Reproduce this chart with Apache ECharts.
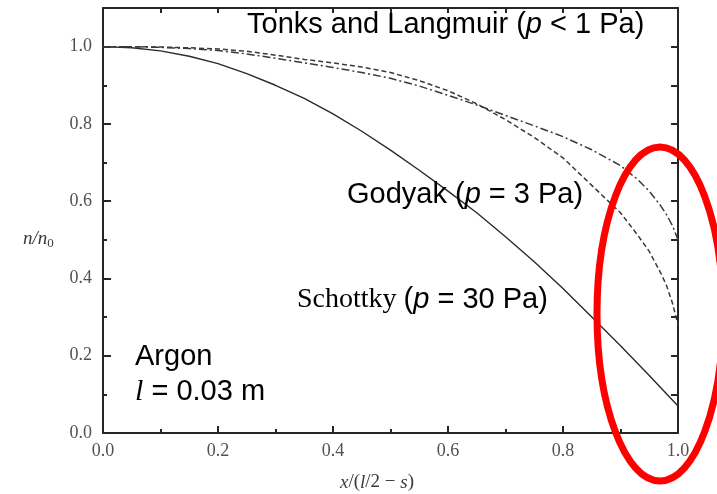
<!DOCTYPE html>
<html>
<head>
<meta charset="utf-8">
<script src="https://cdn.jsdelivr.net/npm/echarts@6/dist/echarts.min.js"></script>
<style>
  html, body { margin: 0; padding: 0; background: #fff; }
  #chart { width: 717px; height: 494px; }
</style>
</head>
<body>
<div id="chart"></div>
<script>
// Normalised positions x/(l/2 - s)
const xSchottky = [0, 0.05, 0.10, 0.15, 0.20, 0.25, 0.30, 0.35, 0.40, 0.45, 0.50,
                   0.55, 0.60, 0.65, 0.70, 0.75, 0.80, 0.85, 0.90, 0.95, 1.00];
const xProfile  = [0, 0.05, 0.10, 0.15, 0.20, 0.25, 0.30, 0.35, 0.40, 0.45, 0.50,
                   0.55, 0.60, 0.65, 0.70, 0.75, 0.80, 0.85, 0.90, 0.93, 0.95,
                   0.97, 0.98, 0.99, 1.00];

// Density profiles n/n0
const nSchottky = [1.000, 0.997, 0.989, 0.975, 0.956, 0.930, 0.900, 0.866, 0.826, 0.781, 0.732,
                   0.680, 0.626, 0.570, 0.508, 0.443, 0.374, 0.300, 0.226, 0.149, 0.070];
const nGodyak   = [1.000, 1.000, 0.999, 0.997, 0.994, 0.988, 0.978, 0.967, 0.958, 0.947, 0.933,
                   0.912, 0.886, 0.852, 0.811, 0.765, 0.712, 0.641, 0.570, 0.512, 0.470,
                   0.414, 0.382, 0.338, 0.280];
const nTonks    = [1.000, 1.000, 0.998, 0.995, 0.990, 0.981, 0.970, 0.958, 0.946, 0.933, 0.918,
                   0.898, 0.874, 0.849, 0.822, 0.795, 0.767, 0.733, 0.692, 0.656, 0.626,
                   0.588, 0.565, 0.538, 0.500];

const xTicks = [0, 1, 0.2];       // min, max, step
const yTicks = [0, 1.1, 0.2];

const pair = (xs, ys) => xs.map((x, i) => [x, ys[i]]);

const axisColor = '#262626';
const tickFont = { fontFamily: '"Liberation Serif", "Times New Roman", serif', fontSize: 18, color: '#555049' };
const sans = '"Liberation Sans", Arial, sans-serif';
const serif = '"Liberation Serif", "Times New Roman", serif';

const chart = echarts.init(document.getElementById('chart'), null, { renderer: 'canvas' });

const grid = { left: 103, top: 8, width: 575, height: 425 };

chart.setOption({
  animation: false,
  backgroundColor: '#fff',
  grid: grid,
  xAxis: [
    {
      type: 'value', position: 'bottom', min: xTicks[0], max: xTicks[1], interval: xTicks[2],
      axisLine: { show: true, onZero: false, lineStyle: { color: axisColor, width: 2 } },
      axisTick: { show: true, inside: true, length: 7, lineStyle: { color: axisColor, width: 2 } },
      minorTick: { show: true, splitNumber: 2, length: 4, lineStyle: { color: axisColor, width: 2 } },
      splitLine: { show: false },
      axisLabel: { margin: 9, formatter: v => v.toFixed(1), ...tickFont }
    },
    {
      type: 'value', position: 'top', min: xTicks[0], max: xTicks[1], interval: 0.1,
      axisLine: { show: true, onZero: false, lineStyle: { color: axisColor, width: 2 } },
      axisTick: { show: true, inside: true, length: 5, lineStyle: { color: axisColor, width: 2 } },
      splitLine: { show: false },
      axisLabel: { show: false }
    }
  ],
  yAxis: [
    {
      type: 'value', position: 'left', min: yTicks[0], max: yTicks[1], interval: yTicks[2],
      axisLine: { show: true, onZero: false, lineStyle: { color: axisColor, width: 2 } },
      axisTick: { show: true, inside: true, length: 8, lineStyle: { color: axisColor, width: 2 } },
      splitLine: { show: false },
      axisLabel: { margin: 11, showMaxLabel: false,
                   formatter: v => (v > 1.0001 ? '' : v.toFixed(1)), ...tickFont }
    },
    {
      type: 'value', position: 'right', min: yTicks[0], max: yTicks[1], interval: 0.1,
      axisLine: { show: true, onZero: false, lineStyle: { color: axisColor, width: 2 } },
      axisTick: { show: true, inside: true, length: 7, lineStyle: { color: axisColor, width: 2 } },
      splitLine: { show: false },
      axisLabel: { show: false }
    },
    {
      // minor ticks on the left edge
      type: 'value', position: 'left', min: yTicks[0], max: yTicks[1], interval: 0.1,
      axisLine: { show: false },
      axisTick: { show: true, inside: true, length: 4, lineStyle: { color: axisColor, width: 2 } },
      splitLine: { show: false },
      axisLabel: { show: false }
    }
  ],
  series: [
    {
      name: 'Schottky', type: 'line', showSymbol: false, xAxisIndex: 0, yAxisIndex: 0,
      data: pair(xSchottky, nSchottky),
      lineStyle: { color: '#2a2a2a', width: 1.4, type: 'solid' }
    },
    {
      name: 'Godyak', type: 'line', showSymbol: false, xAxisIndex: 0, yAxisIndex: 0,
      data: pair(xProfile, nGodyak),
      lineStyle: { color: '#3a3a3a', width: 1.5, type: [5, 3] }
    },
    {
      name: 'Tonks and Langmuir', type: 'line', showSymbol: false, xAxisIndex: 0, yAxisIndex: 0,
      data: pair(xProfile, nTonks),
      lineStyle: { color: '#3a3a3a', width: 1.5, type: [8, 3, 2, 3] }
    }
  ],
  graphic: [
    {
      type: 'text', left: 247, top: 10, z: 10,
      style: {
        text: '{a|Tonks and Langmuir (}{i|p}{a| < 1 Pa)}',
        rich: {
          a: { fontFamily: sans, fontSize: 29, fill: '#000' },
          i: { fontFamily: sans, fontSize: 29, fontStyle: 'italic', fill: '#000' }
        }
      }
    },
    {
      type: 'text', left: 347, top: 180, z: 10,
      style: {
        text: '{a|Godyak (}{i|p}{a| = 3 Pa)}',
        rich: {
          a: { fontFamily: sans, fontSize: 29, fill: '#000' },
          i: { fontFamily: sans, fontSize: 29, fontStyle: 'italic', fill: '#000' }
        }
      }
    },
    {
      type: 'text', left: 297, top: 285, z: 10,
      style: {
        text: '{s|Schottky }{a|(}{i|p}{a| = 30 Pa)}',
        rich: {
          s: { fontFamily: serif, fontSize: 28, fill: '#000' },
          a: { fontFamily: sans, fontSize: 29, fill: '#000' },
          i: { fontFamily: sans, fontSize: 29, fontStyle: 'italic', fill: '#000' }
        }
      }
    },
    {
      type: 'text', left: 135, top: 342, z: 10,
      style: { text: 'Argon', font: '29px ' + sans, fill: '#000' }
    },
    {
      type: 'text', left: 135, top: 377, z: 10,
      style: {
        text: '{l|l}{a| = 0.03 m}',
        rich: {
          l: { fontFamily: serif, fontSize: 30, fontStyle: 'italic', fill: '#000' },
          a: { fontFamily: sans, fontSize: 29, fill: '#000' }
        }
      }
    },
    {
      type: 'text', left: 23, top: 229, z: 10,
      style: {
        text: '{i|n/n}{s|0}',
        rich: {
          i: { fontFamily: serif, fontSize: 19, fontStyle: 'italic', fill: '#3a3a3a' },
          s: { fontFamily: serif, fontSize: 13, fill: '#3a3a3a', padding: [10, 0, 0, 0] }
        }
      }
    },
    {
      type: 'text', left: 340, top: 473, z: 10,
      style: {
        text: '{i|x}{r|/(}{i|l}{r|/2 \u2212 }{i|s}{r|)}',
        rich: {
          i: { fontFamily: serif, fontSize: 19, fontStyle: 'italic', fill: '#3a3a3a' },
          r: { fontFamily: serif, fontSize: 19, fill: '#3a3a3a' }
        }
      }
    },
    {
      type: 'ellipse', z: 20,
      shape: { cx: 660, cy: 314, rx: 63, ry: 167 },
      style: { fill: 'none', stroke: '#ff0000', lineWidth: 7 }
    }
  ]
});
</script>
</body>
</html>
